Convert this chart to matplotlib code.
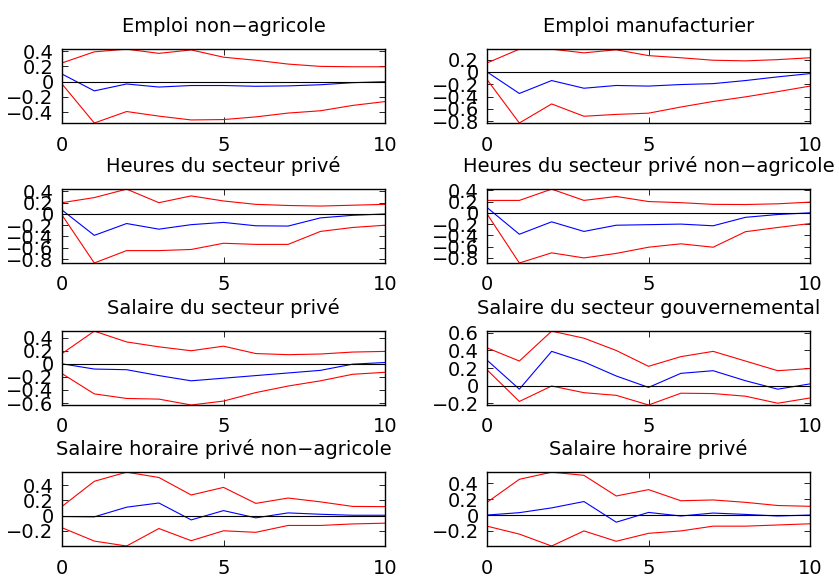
import matplotlib
matplotlib.use("Agg")
import matplotlib.pyplot as plt

plt.rcParams["font.family"] = ["DejaVu Sans"]

horizon = list(range(11))

titles = [
    "Emploi non−agricole", "Emploi manufacturier",
    "Heures du secteur privé", "Heures du secteur privé non−agricole",
    "Salaire du secteur privé", "Salaire du secteur gouvernemental",
    "Salaire horaire privé non−agricole", "Salaire horaire privé",
]

# réponses (bleu) et bandes de confiance (rouge)
resp = [
    [0.10, -0.12, -0.03, -0.07, -0.05, -0.05, -0.06, -0.055, -0.04, -0.013, 0.0],
    [0.0, -0.35, -0.14, -0.265, -0.22, -0.23, -0.205, -0.19, -0.14, -0.08, -0.027],
    [0.07, -0.38, -0.17, -0.27, -0.19, -0.15, -0.21, -0.215, -0.07, -0.024, 0.0],
    [0.094, -0.38, -0.16, -0.33, -0.22, -0.21, -0.20, -0.23, -0.08, -0.03, 0.0],
    [0.0, -0.08, -0.09, -0.18, -0.26, -0.22, -0.18, -0.14, -0.10, -0.005, 0.02],
    [0.29, -0.04, 0.39, 0.27, 0.11, -0.02, 0.14, 0.17, 0.056, -0.04, 0.02],
    [-0.013, -0.017, 0.11, 0.165, -0.057, 0.065, -0.03, 0.035, 0.017, 0.004, 0.004],
    [0.0, 0.03, 0.09, 0.17, -0.09, 0.033, -0.012, 0.025, 0.008, -0.012, 0.0],
]
upper = [
    [0.245, 0.39, 0.425, 0.37, 0.415, 0.32, 0.28, 0.23, 0.20, 0.195, 0.195],
    [0.146, 0.37, 0.37, 0.31, 0.36, 0.265, 0.23, 0.19, 0.18, 0.20, 0.23],
    [0.20, 0.29, 0.44, 0.20, 0.32, 0.23, 0.17, 0.15, 0.14, 0.155, 0.17],
    [0.22, 0.22, 0.42, 0.22, 0.29, 0.20, 0.18, 0.15, 0.147, 0.16, 0.19],
    [0.157, 0.50, 0.335, 0.26, 0.20, 0.27, 0.157, 0.14, 0.15, 0.18, 0.19],
    [0.43, 0.28, 0.62, 0.54, 0.40, 0.22, 0.33, 0.39, 0.28, 0.17, 0.195],
    [0.12, 0.45, 0.57, 0.50, 0.27, 0.37, 0.16, 0.23, 0.18, 0.12, 0.117],
    [0.16, 0.45, 0.54, 0.50, 0.24, 0.32, 0.18, 0.19, 0.16, 0.12, 0.11],
]
lower = [
    [-0.03, -0.54, -0.39, -0.45, -0.50, -0.495, -0.46, -0.41, -0.38, -0.31, -0.26],
    [-0.124, -0.83, -0.52, -0.72, -0.69, -0.67, -0.57, -0.48, -0.405, -0.32, -0.23],
    [-0.02, -0.87, -0.65, -0.65, -0.63, -0.52, -0.54, -0.54, -0.31, -0.24, -0.20],
    [-0.02, -0.89, -0.71, -0.80, -0.72, -0.61, -0.55, -0.61, -0.335, -0.26, -0.19],
    [-0.15, -0.46, -0.53, -0.54, -0.63, -0.57, -0.44, -0.34, -0.26, -0.16, -0.13],
    [0.18, -0.18, -0.004, -0.08, -0.11, -0.22, -0.086, -0.09, -0.12, -0.20, -0.14],
    [-0.16, -0.335, -0.40, -0.17, -0.33, -0.20, -0.22, -0.13, -0.13, -0.11, -0.10],
    [-0.14, -0.24, -0.39, -0.20, -0.33, -0.23, -0.20, -0.14, -0.14, -0.125, -0.11],
]
yticks = [
    [-0.4, -0.2, 0, 0.2, 0.4],
    [-0.8, -0.6, -0.4, -0.2, 0, 0.2],
    [-0.8, -0.6, -0.4, -0.2, 0, 0.2, 0.4],
    [-0.8, -0.6, -0.4, -0.2, 0, 0.2, 0.4],
    [-0.6, -0.4, -0.2, 0, 0.2, 0.4],
    [-0.2, 0, 0.2, 0.4, 0.6],
    [-0.2, 0, 0.2, 0.4],
    [-0.2, 0, 0.2, 0.4],
]

fig = plt.figure(figsize=(8.39, 5.77), dpi=100)
lefts = [0.0739, 0.5805]
bottoms = [0.7868, 0.5442, 0.2981, 0.0537]

def fmt(v):
    if abs(v) < 1e-9:
        return "0"
    return ("%.1f" % v).replace("-", "−")

for i in range(8):
    ax = fig.add_axes([lefts[i % 2], bottoms[i // 2], 0.385, 0.128])
    ax.plot(horizon, upper[i], color="red", lw=0.8)
    ax.plot(horizon, lower[i], color="red", lw=0.8)
    ax.plot(horizon, resp[i], color="blue", lw=0.8)
    ax.axhline(0, color="black", lw=0.8)
    lo = min(lower[i] + resp[i])
    hi = max(upper[i] + resp[i])
    ax.set_xlim(0, 10)
    ax.set_ylim(lo, hi)
    ax.set_xticks([0, 5, 10])
    ax.set_yticks(yticks[i])
    ax.set_yticklabels([fmt(v) for v in yticks[i]])
    ax.tick_params(direction="in", top=True, right=True, labelsize=14,
                   length=4, width=0.6)
    ax.tick_params(axis="x", pad=9)
    ax.tick_params(axis="y", pad=6)
    for s in ax.spines.values():
        s.set_linewidth(1.0)
    ax.set_title(titles[i], fontsize=14, pad=12)

fig.savefig("out.png", dpi=100)
